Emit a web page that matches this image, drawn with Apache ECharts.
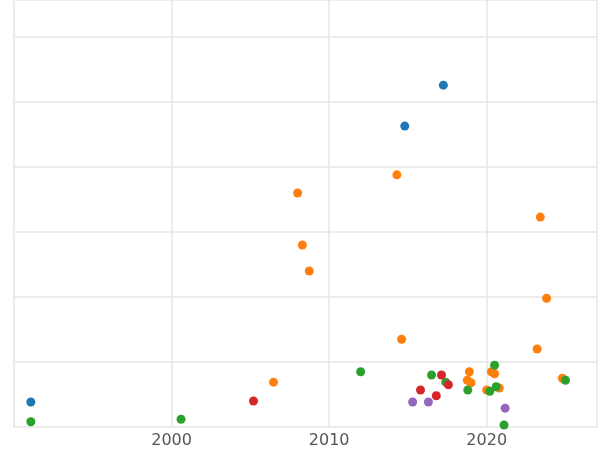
<!DOCTYPE html>
<html><head><meta charset="utf-8">
<script src="https://cdn.jsdelivr.net/npm/echarts@6/dist/echarts.min.js"></script>
<style>html,body{margin:0;padding:0;background:#fff}#c{width:600px;height:450px}</style>
</head><body><div id="c"></div>
<script>
const blue=[[1991.07,0.385],[2014.8,4.63],[2017.25,5.26]];
const orange=[[2008.0,3.6],[2008.3,2.8],[2008.74,2.4],[2014.3,3.88],[2014.6,1.35],[2006.47,0.69],[2023.4,3.23],[2023.8,1.98],[2023.2,1.2],[2018.9,0.85],[2018.77,0.72],[2019.0,0.68],[2020.3,0.85],[2020.5,0.82],[2020.0,0.57],[2020.8,0.6],[2024.8,0.75]];
const green=[[1991.07,0.08],[2000.6,0.12],[2012.0,0.85],[2016.5,0.8],[2017.4,0.69],[2018.8,0.57],[2020.2,0.55],[2020.5,0.95],[2020.6,0.62],[2025.0,0.72],[2021.1,0.03]];
const red=[[2005.2,0.4],[2015.8,0.57],[2016.8,0.48],[2017.13,0.8],[2017.57,0.65]];
const purple=[[2015.3,0.385],[2016.3,0.385],[2021.17,0.29]];
const xTickLabels=[2000,2010,2020];
const chart=echarts.init(document.getElementById('c'));
const mk=(d,c)=>({type:'scatter',data:d,symbolSize:9,clip:false,itemStyle:{color:c,opacity:1}});
chart.setOption({
 animation:false,
 grid:{left:14,right:0,top:0,bottom:23},
 xAxis:{type:'value',min:1990,max:2027,interval:10,
  axisLine:{show:false},axisTick:{show:false},
  splitLine:{lineStyle:{color:'#e6e6e6',width:1.5}},
  axisLabel:{color:'#555',fontSize:16,fontFamily:'DejaVu Sans',margin:6,
   formatter:v=>xTickLabels.includes(v)?String(v):''}},
 yAxis:{type:'value',min:0,max:6.57,interval:1,
  axisLine:{show:false},axisTick:{show:false},axisLabel:{show:false},
  splitLine:{lineStyle:{color:'#e6e6e6',width:1.5}}},
 series:[mk(blue,'#1f77b4'),mk(orange,'#ff7f0e'),mk(green,'#2ca02c'),mk(red,'#d62728'),mk(purple,'#9467bd')]
});
</script></body></html>
